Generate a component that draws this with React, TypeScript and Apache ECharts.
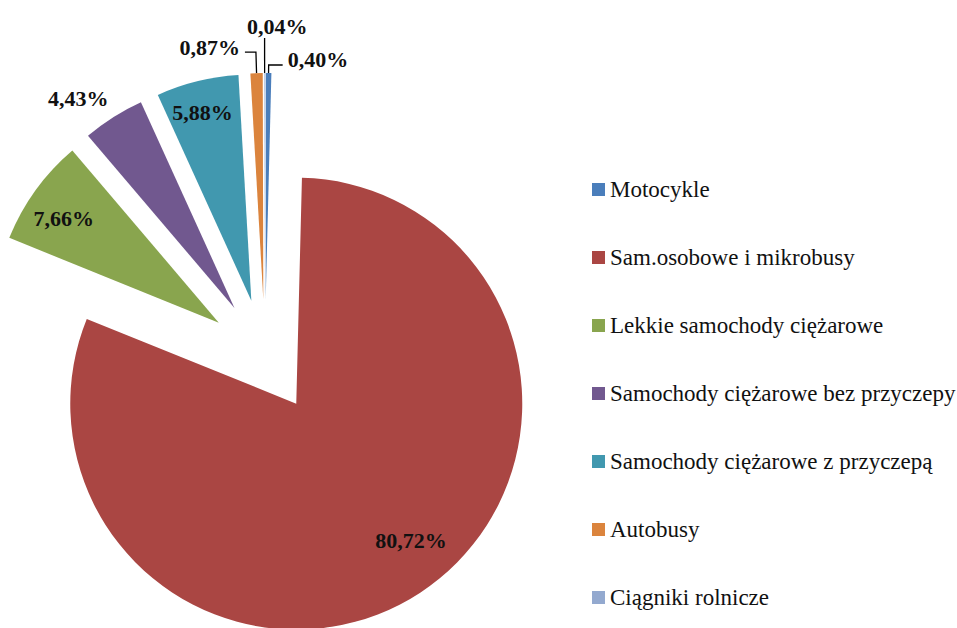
import React, { useEffect, useRef } from "react";
import * as echarts from "echarts";

const categories = [
  "Motocykle",
  "Sam.osobowe i mikrobusy",
  "Lekkie samochody ciężarowe",
  "Samochody ciężarowe bez przyczepy",
  "Samochody ciężarowe z przyczepą",
  "Autobusy",
  "Ciągniki rolnicze",
];
const shares = [0.4, 80.72, 7.66, 4.43, 5.88, 0.87, 0.04];
const colors = ["#4A7EBB", "#AA4643", "#89A54E", "#71588F", "#4198AF", "#DB843D", "#93A9CF"];

const FONT = "Liberation Serif";

export default function App() {
  const ref = useRef<HTMLDivElement>(null);
  useEffect(() => {
    if (!ref.current) return;
    const chart = echarts.init(ref.current, undefined, { renderer: "svg" });
    const fmt = (v: number) => v.toFixed(2).replace(".", ",") + "%";
    const insideIdx = [1, 2, 3, 4];
    const data = categories.map((name, i) => {
      const inside = insideIdx.includes(i);
      const item: any = {
        name,
        value: shares[i],
        selected: true,
        itemStyle: { color: colors[i] },
        label: { position: inside ? "inside" : "outside" },
        labelLine: { show: !inside },
      };
      if (i === 0) item.labelLine = { show: true, length: 8, length2: 14 };
      if (i === 5) item.labelLine = { show: true, length: 21, length2: 11 };
      if (i === 6) item.labelLine = { show: true, length: 35, length2: 0 };
      return item;
    });
    const nudges: Record<number, [number, number]> = {
      0: [0, -6],
      1: [51, 40],
      2: [-61, -36],
      3: [-94, -111],
      4: [-21, -76],
      5: [0, -5],
      6: [48, -12],
    };
    chart.setOption({
      animation: false,
      textStyle: { fontFamily: FONT },
      legend: {
        orient: "vertical",
        left: 587,
        top: 173,
        icon: "rect",
        itemWidth: 13,
        itemHeight: 13,
        itemGap: 45,
        selectedMode: false,
        textStyle: { fontFamily: FONT, fontSize: 23, lineHeight: 22, color: "#111" },
        data: categories,
      },
      series: [
        {
          type: "pie",
          center: [265, 356],
          radius: 226,
          startAngle: 90,
          clockwise: true,
          selectedMode: "multiple",
          selectedOffset: 57,
          avoidLabelOverlap: false,
          emphasis: { disabled: true },
          itemStyle: { borderWidth: 0 },
          label: {
            show: true,
            fontFamily: FONT,
            fontSize: 22,
            fontWeight: "bold",
            color: "#111",
            formatter: (p: any) => fmt(p.value),
          },
          labelLine: { lineStyle: { color: "#000", width: 1.3 } },
          labelLayout: (params: any) => {
            const n = nudges[params.dataIndex];
            return n ? { dx: n[0], dy: n[1] } : {};
          },
          data,
        },
      ],
    });
    return () => chart.dispose();
  }, []);
  return (
    <div
      ref={ref}
      style={{ position: "fixed", left: 0, top: 0, width: 957, height: 628, background: "#fff" }}
    />
  );
}
